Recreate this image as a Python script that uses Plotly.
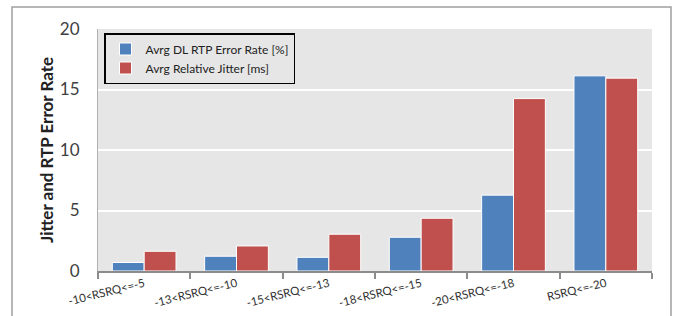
import plotly.graph_objects as go

categories = ["-10<RSRQ<=-5", "-13<RSRQ<=-10", "-15<RSRQ<=-13",
              "-18<RSRQ<=-15", "-20<RSRQ<=-18", "RSRQ<=-20"]
error_rate = [0.7, 1.22, 1.13, 2.79, 6.27, 16.13]
rel_jitter = [1.63, 2.07, 3.04, 4.36, 14.25, 15.94]
y_ticks = [0, 5, 10, 15, 20]

BLUE = "#4F81BD"
RED = "#C0504D"
PLOTBG = "#E6E6E6"
FONT = "Lato, Carlito, Calibri, sans-serif"

fig = go.Figure()
fig.add_trace(go.Bar(x=categories, y=error_rate, name="Avrg DL RTP Error Rate [%]",
                     marker=dict(color=BLUE, line=dict(color="white", width=1))))
fig.add_trace(go.Bar(x=categories, y=rel_jitter, name="Avrg Relative Jitter [ms]",
                     marker=dict(color=RED, line=dict(color="white", width=1))))

L, R, T, B = 98, 21, 29, 45
W, H = 673, 316
pw, ph = W - L - R, H - T - B

fig.update_layout(
    width=W, height=H,
    margin=dict(l=L, r=R, t=T, b=B, autoexpand=False),
    paper_bgcolor="white",
    plot_bgcolor=PLOTBG,
    barmode="group",
    bargap=0.31,
    bargroupgap=0,
    font=dict(family=FONT, color="#404040"),
    showlegend=True,
    legend=dict(
        x=(104 - L) / pw, y=(H - B - 33) / ph, xanchor="left", yanchor="top",
        bgcolor=PLOTBG, bordercolor="black", borderwidth=1.5,
        font=dict(size=12, color="#222222", family=FONT),
        itemwidth=30, tracegroupgap=2,
    ),
    xaxis=dict(
        type="category",
        tickangle=-14,
        automargin=False,
        tickfont=dict(size=11.5, color="#303030"),
        showline=True, linecolor="#8C8C8C", linewidth=1.5,
        ticks="outside", tickson="boundaries", ticklen=6, tickcolor="#8C8C8C",
        tickwidth=1.5,
        showgrid=False,
    ),
    yaxis=dict(
        range=[0, 20],
        tickvals=y_ticks,
        automargin=False,
        tickfont=dict(size=17, color="#404040"),
        showgrid=True, gridcolor="white", gridwidth=1.5,
        showline=True, linecolor="#B0B0B0", linewidth=1,
        zeroline=False,
        ticklabelstandoff=14,
        title=dict(text="<b>Jitter and RTP Error Rate</b>",
                   font=dict(size=17, color="#222222"), standoff=1),
    ),
    shapes=[dict(
        type="rect", xref="paper", yref="paper",
        x0=(12 - L) / pw, x1=(671 - L) / pw,
        y0=(H - B - 330) / ph, y1=(H - B - 7) / ph,
        line=dict(color="#A0A0A0", width=1.5), fillcolor="rgba(0,0,0,0)",
        layer="below",
    )],
)

fig.write_html("out.html", config={"displayModeBar": False},
               post_script="document.body.style.margin='0';")
